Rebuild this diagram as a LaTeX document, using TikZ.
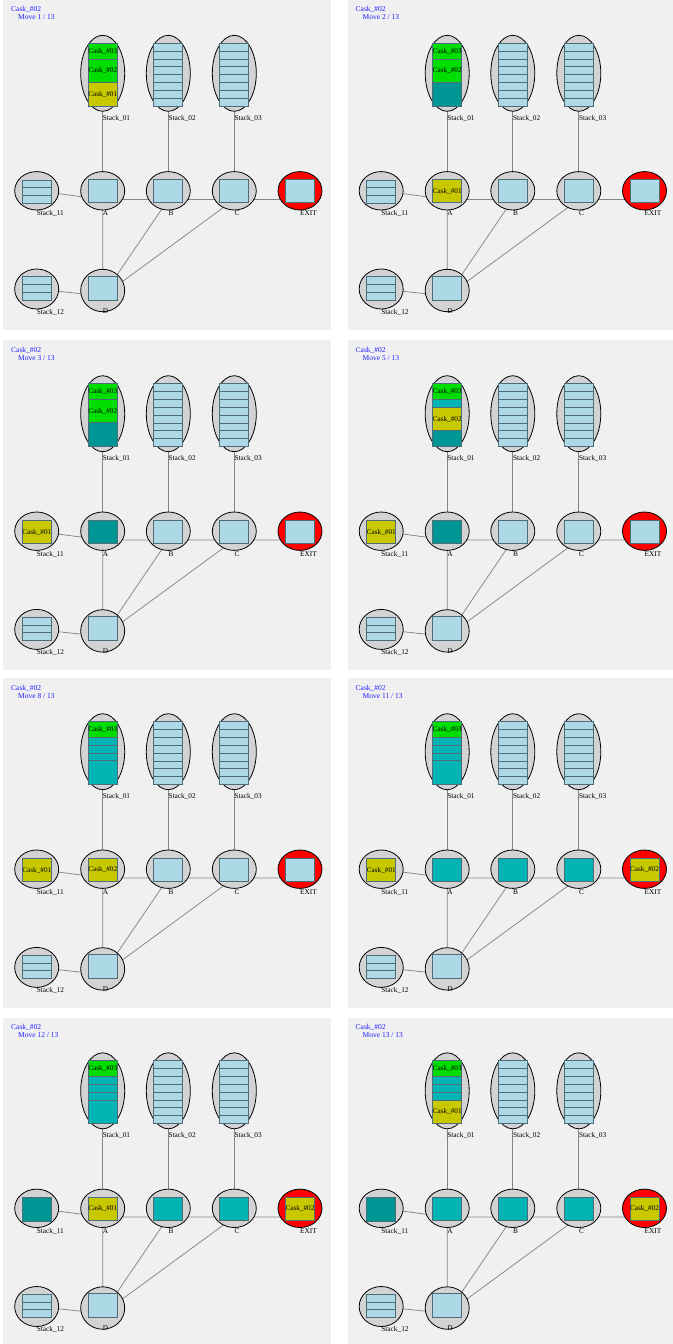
\documentclass[tikz,border=0pt]{standalone}
\usepackage{fontspec}
\setmainfont{Liberation Serif}
\usetikzlibrary{shapes.geometric, calc}
\definecolor{panelgray}{HTML}{F0F0F0}
\definecolor{ovalgray}{HTML}{D3D3D3}
\definecolor{slotblue}{HTML}{ADD8E6}
\definecolor{slotline}{HTML}{4F6B78}
\definecolor{caskgreen}{HTML}{00DD00}
\definecolor{caskyellow}{HTML}{C8C800}
\definecolor{darkteal}{HTML}{009696}
\definecolor{lightteal}{HTML}{00B4B4}
\definecolor{exitred}{HTML}{FF0000}
\definecolor{titleblue}{HTML}{2020FF}
\definecolor{edgegray}{HTML}{858585}

\pgfdeclarelayer{bg}
\pgfdeclarelayer{edges}
\pgfsetlayers{bg,edges,main}

\tikzset{
  oval/.style     = {ellipse, draw=black, line width=0.8pt, fill=ovalgray,
                     minimum width=44pt, inner sep=0pt, outer sep=0pt},
  slotbox/.style  = {rectangle, draw=slotline, line width=0.8pt, fill=slotblue,
                     minimum width=29pt, inner sep=0pt, outer sep=0pt},
  gridline/.style = {draw=slotline, line width=0.8pt},
  cell/.style     = {draw=slotline, line width=0.8pt},
  celltext/.style = {inner sep=0pt, font=\fontsize{7.2pt}{8pt}\selectfont},
  nametag/.style  = {anchor=base west, inner sep=0pt, font=\fontsize{7.3pt}{8pt}\selectfont},
  movetext/.style = {anchor=base west, inner sep=0pt, text=titleblue,
                     font=\fontsize{7.5pt}{8pt}\selectfont},
  link/.style     = {draw=edgegray, line width=0.75pt},
}

% one board: stacks, positions, exit and the tracks between them
\newcommand{\board}[2]{%
  \begin{pgfonlayer}{bg}
    \fill[panelgray] (0,0) rectangle (328,330);
  \end{pgfonlayer}
  \node[movetext] (#1-cask) at (8,11.8) {Cask\_\#02};
  \node[movetext] (#1-move) at (15,19.8) {Move #2 / 13};
  % upper stacks (eight slots) and the positions under them
  \foreach \s/\x/\p in {01/99.7/A, 02/165.3/B, 03/231.3/C} {
    \node[oval, minimum height=76pt] (#1-S\s) at (\x,73.3) {};
    \node[slotbox, minimum height=62.7pt] (#1-S\s-box) at (\x,74.65) {};
    \foreach \rr in {1,...,7}
      \draw[gridline] (\x-14.5,43.3+\rr*7.84) -- (\x+14.5,43.3+\rr*7.84);
    \node[nametag] (#1-S\s-tag) at (\x,120.2) {Stack\_\s};
    \node[oval, minimum height=38.4pt] (#1-\p) at (\x,190.8) {};
    \node[slotbox, minimum height=23pt] (#1-\p-box) at (\x,191) {};
    \coordinate (#1-\p-e) at (\x,199.5);
    \node[nametag] (#1-\p-tag) at (\x,215.8) {\p};
  }
  % exit
  \node[oval, fill=exitred, minimum height=38.4pt] (#1-X) at (297,190.8) {};
  \node[slotbox, minimum height=23pt] (#1-X-box) at (297,191) {};
  \coordinate (#1-X-e) at (297,199.5);
  \node[nametag] (#1-X-tag) at (297,215.8) {EXIT};
  % side stacks (three slots)
  \node[oval, minimum height=38.4pt] (#1-S11) at (33.7,190.8) {};
  \node[slotbox, minimum height=23.4pt] (#1-S11-box) at (33.8,191.7) {};
  \draw[gridline] (19.3,187.8) -- (48.3,187.8);
  \draw[gridline] (19.3,195.6) -- (48.3,195.6);
  \node[nametag] (#1-S11-tag) at (33.7,215.8) {Stack\_11};
  \node[oval, minimum height=40pt] (#1-S12) at (33.7,289) {};
  \node[slotbox, minimum height=23.4pt] (#1-S12-box) at (33.8,288.4) {};
  \draw[gridline] (19.3,284.5) -- (48.3,284.5);
  \draw[gridline] (19.3,292.3) -- (48.3,292.3);
  \node[nametag] (#1-S12-tag) at (33.7,314.4) {Stack\_12};
  % D
  \node[oval, minimum height=42.4pt] (#1-D) at (99.7,290.5) {};
  \node[slotbox, minimum height=24pt] (#1-D-box) at (99.7,288) {};
  \coordinate (#1-D-e) at (99.7,296);
  \node[nametag] (#1-D-tag) at (99.7,313.1) {D};
  % tracks
  \begin{pgfonlayer}{edges}
    \draw[link] (#1-S01) -- (#1-A-e);
    \draw[link] (#1-S02) -- (#1-B-e);
    \draw[link] (#1-S03) -- (#1-C-e);
    \draw[link] (#1-S11) -- (#1-A-e) -- (#1-B-e) -- (#1-C-e) -- (#1-X-e);
    \draw[link] (#1-S12) -- (#1-D-e) -- (#1-A-e);
    \draw[link] (#1-D-e) -- (#1-B-e);
    \draw[link] (#1-D-e) -- (#1-C-e);
  \end{pgfonlayer}
}

% fill slots #2..#3 of a box with #4 slots
\newcommand{\cask}[6]{%
  \path[cell, fill=#5]
    ($(#1.north west)!{(#2-1)/#4}!(#1.south west)$) rectangle
    ($(#1.north east)!{#3/#4}!(#1.south east)$);
  \node[celltext] (#1-c#2) at ($(#1.north)!{(#2+#3-1)/(2*#4)}!(#1.south)$) {#6};
}

\begin{document}
\begin{tikzpicture}[x=1pt, y=-1pt]
  \useasboundingbox (0,0) rectangle (672,1344);
  \begin{pgfonlayer}{bg}
    \fill[white] (0,0) rectangle (672,1344);
  \end{pgfonlayer}

  % move 1
  \begin{scope}[shift={(3,0)}]
    \board{m1}{1}
    \cask{m1-S01-box}{1}{2}{8}{caskgreen}{Cask\_\#03}
    \cask{m1-S01-box}{3}{5}{8}{caskgreen}{Cask\_\#02}
    \cask{m1-S01-box}{6}{8}{8}{caskyellow}{Cask\_\#01}
  \end{scope}

  % move 2
  \begin{scope}[shift={(347.5,0)}]
    \board{m2}{2}
    \cask{m2-S01-box}{1}{2}{8}{caskgreen}{Cask\_\#03}
    \cask{m2-S01-box}{3}{5}{8}{caskgreen}{Cask\_\#02}
    \cask{m2-S01-box}{6}{8}{8}{darkteal}{}
    \cask{m2-A-box}{1}{1}{1}{caskyellow}{Cask\_\#01}
  \end{scope}

  % move 3
  \begin{scope}[shift={(3,340.4)}]
    \board{m3}{3}
    \cask{m3-S01-box}{1}{2}{8}{caskgreen}{Cask\_\#03}
    \cask{m3-S01-box}{3}{5}{8}{caskgreen}{Cask\_\#02}
    \cask{m3-S01-box}{6}{8}{8}{darkteal}{}
    \cask{m3-A-box}{1}{1}{1}{darkteal}{}
    \cask{m3-S11-box}{1}{3}{3}{caskyellow}{Cask\_\#01}
  \end{scope}

  % move 5
  \begin{scope}[shift={(347.5,340.4)}]
    \board{m5}{5}
    \cask{m5-S01-box}{1}{2}{8}{caskgreen}{Cask\_\#03}
    \cask{m5-S01-box}{3}{3}{8}{lightteal}{}
    \cask{m5-S01-box}{4}{6}{8}{caskyellow}{Cask\_\#02}
    \cask{m5-S01-box}{7}{8}{8}{darkteal}{}
    \cask{m5-A-box}{1}{1}{1}{darkteal}{}
    \cask{m5-S11-box}{1}{3}{3}{caskyellow}{Cask\_\#01}
  \end{scope}

  % move 8
  \begin{scope}[shift={(3,678.4)}]
    \board{m8}{8}
    \cask{m8-S01-box}{1}{2}{8}{caskgreen}{Cask\_\#03}
    \cask{m8-S01-box}{3}{3}{8}{lightteal}{}
    \cask{m8-S01-box}{4}{4}{8}{lightteal}{}
    \cask{m8-S01-box}{5}{5}{8}{lightteal}{}
    \cask{m8-S01-box}{6}{8}{8}{lightteal}{}
    \cask{m8-S11-box}{1}{3}{3}{caskyellow}{Cask\_\#01}
    \cask{m8-A-box}{1}{1}{1}{caskyellow}{Cask\_\#02}
  \end{scope}

  % move 11
  \begin{scope}[shift={(347.5,678.4)}]
    \board{m11}{11}
    \cask{m11-S01-box}{1}{2}{8}{caskgreen}{Cask\_\#03}
    \cask{m11-S01-box}{3}{3}{8}{lightteal}{}
    \cask{m11-S01-box}{4}{4}{8}{lightteal}{}
    \cask{m11-S01-box}{5}{5}{8}{lightteal}{}
    \cask{m11-S01-box}{6}{8}{8}{lightteal}{}
    \cask{m11-S11-box}{1}{3}{3}{caskyellow}{Cask\_\#01}
    \cask{m11-A-box}{1}{1}{1}{lightteal}{}
    \cask{m11-B-box}{1}{1}{1}{lightteal}{}
    \cask{m11-C-box}{1}{1}{1}{lightteal}{}
    \cask{m11-X-box}{1}{1}{1}{caskyellow}{Cask\_\#02}
  \end{scope}

  % move 12
  \begin{scope}[shift={(3,1017.5)}]
    \board{m12}{12}
    \cask{m12-S01-box}{1}{2}{8}{caskgreen}{Cask\_\#03}
    \cask{m12-S01-box}{3}{3}{8}{lightteal}{}
    \cask{m12-S01-box}{4}{4}{8}{lightteal}{}
    \cask{m12-S01-box}{5}{5}{8}{lightteal}{}
    \cask{m12-S01-box}{6}{8}{8}{lightteal}{}
    \cask{m12-S11-box}{1}{3}{3}{darkteal}{}
    \cask{m12-A-box}{1}{1}{1}{caskyellow}{Cask\_\#01}
    \cask{m12-B-box}{1}{1}{1}{lightteal}{}
    \cask{m12-C-box}{1}{1}{1}{lightteal}{}
    \cask{m12-X-box}{1}{1}{1}{caskyellow}{Cask\_\#02}
  \end{scope}

  % move 13
  \begin{scope}[shift={(347.5,1017.5)}]
    \board{m13}{13}
    \cask{m13-S01-box}{1}{2}{8}{caskgreen}{Cask\_\#03}
    \cask{m13-S01-box}{3}{3}{8}{lightteal}{}
    \cask{m13-S01-box}{4}{4}{8}{lightteal}{}
    \cask{m13-S01-box}{5}{5}{8}{lightteal}{}
    \cask{m13-S01-box}{6}{8}{8}{caskyellow}{Cask\_\#01}
    \cask{m13-S11-box}{1}{3}{3}{darkteal}{}
    \cask{m13-A-box}{1}{1}{1}{lightteal}{}
    \cask{m13-B-box}{1}{1}{1}{lightteal}{}
    \cask{m13-C-box}{1}{1}{1}{lightteal}{}
    \cask{m13-X-box}{1}{1}{1}{caskyellow}{Cask\_\#02}
  \end{scope}
\end{tikzpicture}
\end{document}
